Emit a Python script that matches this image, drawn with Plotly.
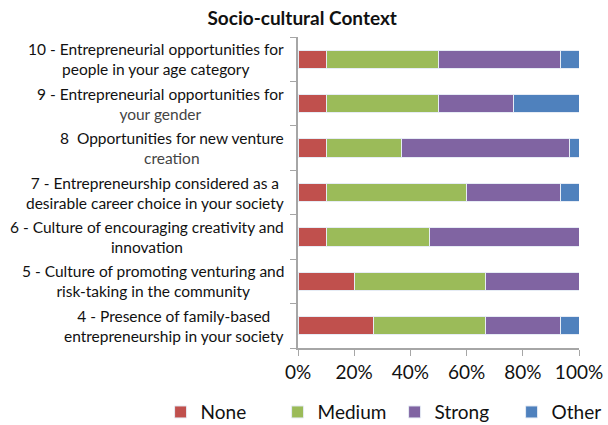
import plotly.graph_objects as go

# Items, listed bottom to top
item_labels = [
    "4 - Presence of family-based<br>entrepreneurship in your society",
    "5 - Culture of promoting venturing and<br>risk-taking in the community",
    "6 - Culture of encouraging creativity and<br>innovation",
    "7 - Entrepreneurship considered as a<br>desirable career choice in your society",
    "8  Opportunities for new venture<br><span style='color:#444'>creation</span>",
    "9 - Entrepreneurial opportunities for<br><span style='color:#444'>your gender</span>",
    "10 - Entrepreneurial opportunities for<br>people in your age category",
]

# Share of responses per rating (percent)
none_pct = [26.7, 20.0, 10.0, 10.0, 10.0, 10.0, 10.0]
medium_pct = [40.0, 46.7, 36.7, 50.0, 26.7, 40.0, 40.0]
strong_pct = [26.7, 33.3, 53.3, 33.3, 60.0, 26.7, 43.3]
other_pct = [6.6, 0.0, 0.0, 6.7, 3.3, 23.3, 6.7]

series = [
    ("None", none_pct, "#C0504D"),
    ("Medium", medium_pct, "#9BBB59"),
    ("Strong", strong_pct, "#8064A2"),
    ("Other", other_pct, "#4F81BD"),
]

FONT = "Lato, 'Open Sans', sans-serif"

fig = go.Figure()
for name, vals, color in series:
    fig.add_trace(go.Bar(
        y=item_labels,
        x=[v / 100 for v in vals],
        name=name,
        orientation="h",
        marker=dict(color=color, line=dict(color="#e6ecf5", width=1)),
    ))

for label in item_labels:
    fig.add_annotation(
        x=0, xref="paper", xanchor="right", xshift=-12,
        y=label, yref="y", yanchor="middle",
        text=label, align="center", showarrow=False,
        font=dict(family=FONT, size=15.5, color="#111"),
    )

fig.update_layout(
    barmode="stack",
    bargap=0.59,
    width=608, height=425,
    margin=dict(l=298, r=29, t=37, b=77, autoexpand=False),
    plot_bgcolor="white",
    paper_bgcolor="white",
    font=dict(family=FONT, color="#111"),
    title=dict(
        text="<b>Socio-cultural Context</b>",
        x=0.497, xanchor="center", y=0.958, yanchor="middle",
        font=dict(family=FONT, size=19, color="#111"),
    ),
    xaxis=dict(
        range=[0, 1], dtick=0.2, tickformat=".0%",
        showgrid=False, zeroline=False,
        showline=True, linecolor="#a6a6a6", linewidth=1.5,
        ticks="outside", ticklen=6, tickcolor="#a6a6a6",
        tickfont=dict(family=FONT, size=19, color="#111"),
    ),
    yaxis=dict(
        type="category", categoryorder="array", categoryarray=item_labels,
        showticklabels=False, showgrid=False, zeroline=False,
        showline=True, linecolor="#a6a6a6", linewidth=1.5,
        ticks="outside", ticklen=6, tickcolor="#a6a6a6",
        tickson="boundaries",
    ),
    legend=dict(
        orientation="h",
        x=-0.489, xanchor="left", y=-0.145, yanchor="top",
        entrywidth=72, entrywidthmode="pixels",
        font=dict(family=FONT, size=19, color="#111"),
        traceorder="normal",
    ),
)

fig.write_html("out.html")
